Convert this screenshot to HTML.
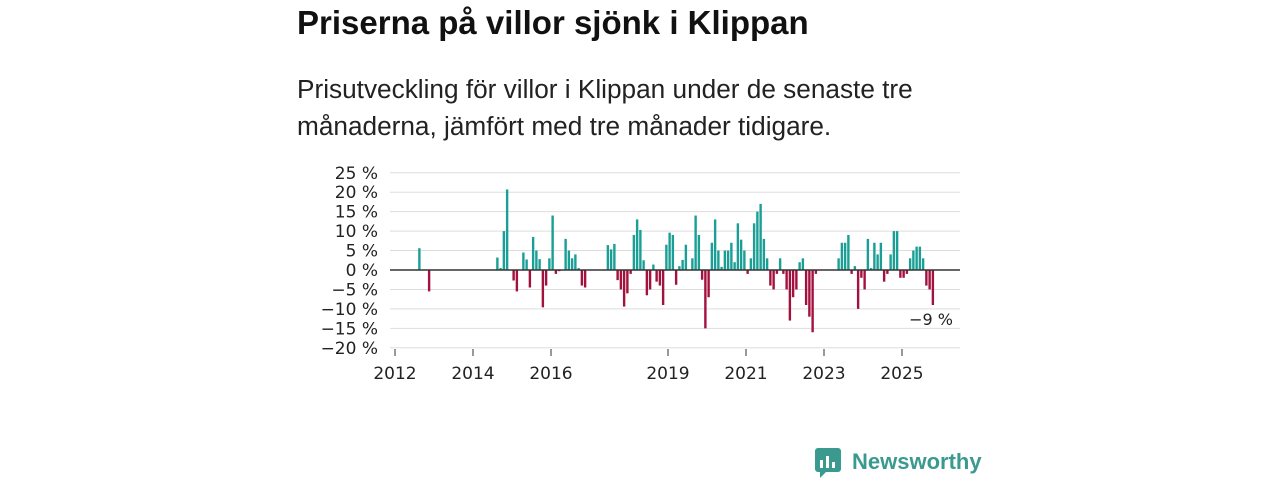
<!DOCTYPE html>
<html><head><meta charset="utf-8"><style>
body{margin:0;width:1280px;height:480px;background:#fff;font-family:"Liberation Sans",sans-serif;overflow:hidden}
</style></head><body>
<svg width="1280" height="480" style="position:absolute;left:0;top:0">
<text x="297" y="34" font-size="33" font-weight="bold" fill="#111" font-family="Liberation Sans, sans-serif">Priserna på villor sjönk i Klippan</text>
<text x="297" y="98" font-size="26.2" fill="#222" font-family="Liberation Sans, sans-serif">Prisutveckling för villor i Klippan under de senaste tre</text>
<text x="297" y="135" font-size="26.2" fill="#222" font-family="Liberation Sans, sans-serif">månaderna, jämfört med tre månader tidigare.</text>
<g id="grid"></g><g id="bars"></g><g id="axes"></g>
<text x="953" y="325" font-size="16" fill="#222" text-anchor="end" font-family="DejaVu Sans, sans-serif">−9 %</text>
<g>
<rect x="815" y="448" width="26" height="24" rx="3" fill="#3a9a8f"/>
<path d="M820 472 L820 478 L826 472 Z" fill="#3a9a8f"/>
<rect x="820" y="460" width="3" height="8" fill="#fff"/><rect x="826" y="456" width="3" height="12" fill="#fff"/><rect x="832" y="462" width="3" height="6" fill="#fff"/>
<text x="852" y="469" font-size="22" font-weight="bold" fill="#3a9a8f" font-family="Liberation Sans, sans-serif">Newsworthy</text>
</g>
</svg>
<script>
const yTicks=[25,20,15,10,5,0,-5,-10,-15,-20];
const xTickYears=[2012,2014,2016,2019,2021,2023,2025];
const months=[7,10,31,32,33,34,36,37,39,40,41,42,43,44,45,46,47,48,49,50,52,53,54,55,56,57,58,
65,66,67,68,69,70,71,72,73,74,75,76,77,78,79,80,81,82,83,84,85,86,87,88,89,91,92,93,94,95,96,97,98,99,100,101,102,103,104,105,106,107,108,109,110,111,112,113,114,115,116,117,118,119,120,121,122,123,124,125,126,127,128,129,
136,137,138,139,140,141,142,143,144,145,146,147,148,149,150,151,152,153,154,155,156,157,158,159,160,161,162,163,164,165];
const values=[5.6,-5.5,3.2,0.5,10,20.7,-2.7,-5.5,4.5,2.7,-4.5,8.5,5,2.8,-9.6,-4,3,14,-1,-0.3,8,5,3,4,0.5,-4,-4.5,
6.4,5.3,6.7,-2.6,-5,-9.4,-6,-1,9,13,10.3,2.5,-6.5,-5,1.4,-3,-4,-9,6.5,9.6,9,-3.8,1,2.6,6.5,3,14,9,-2.5,-15,-7,7,13,5,0.8,5,5,7,2,12,7.8,5,-1,3,12,15,17,8,3,-4,-5,-1,3,-1,-5,-13,-7,-5,2,3,-9,-12,-16,-1,
3,7,7,9,-1,1,-10,-2,-5,8,0.5,7,4,7,-3,-1,4,10,10,-2,-2,-1,3,5,6,6,3,-4,-5,-9];
const NS="http://www.w3.org/2000/svg";
const x0=395,pxYear=39,zeroY=270,pxPct=3.89,left=390,right=960;
function xm(m){return x0+(m+0.5)*pxYear/12;}
function xy(yr){return x0+(yr-2012)*pxYear;}
function yv(v){return zeroY-v*pxPct;}
const grid=document.getElementById('grid'),bars=document.getElementById('bars'),axes=document.getElementById('axes');
yTicks.forEach(t=>{
 const l=document.createElementNS(NS,'line');
 l.setAttribute('x1',left);l.setAttribute('x2',right);l.setAttribute('y1',yv(t));l.setAttribute('y2',yv(t));
 l.setAttribute('stroke',t===0?'#333':'#ddd');l.setAttribute('stroke-width',t===0?1.5:1);
 
 
 (t===0?axes:grid).appendChild(l);
 const tx=document.createElementNS(NS,'text');
 tx.setAttribute('x',378);tx.setAttribute('y',yv(t)+6);tx.setAttribute('text-anchor','end');
 tx.setAttribute('font-size','17');tx.setAttribute('fill','#222');tx.setAttribute('font-family','DejaVu Sans, sans-serif');
 tx.textContent=(t<0?'−'+(-t):t)+' %';
 
 
 axes.appendChild(tx);
});
xTickYears.forEach(yr=>{
 const l=document.createElementNS(NS,'line');
 l.setAttribute('x1',xy(yr));l.setAttribute('x2',xy(yr));l.setAttribute('y1',349);l.setAttribute('y2',356);
 l.setAttribute('stroke','#333');
 
 
 axes.appendChild(l);
 const tx=document.createElementNS(NS,'text');
 tx.setAttribute('x',xy(yr));tx.setAttribute('y',379);tx.setAttribute('text-anchor','middle');
 tx.setAttribute('font-size','17');tx.setAttribute('fill','#222');tx.setAttribute('font-family','DejaVu Sans, sans-serif');
 tx.textContent=yr;
 
 
 axes.appendChild(tx);
});
months.forEach((m,i)=>{
 const v=values[i];const r=document.createElementNS(NS,'rect');
 r.setAttribute('x',xm(m)-1.2);r.setAttribute('width',2.4);
 r.setAttribute('y',Math.min(yv(v),zeroY));r.setAttribute('height',Math.abs(v*pxPct));
 r.setAttribute('fill',v>=0?'#1a9e96':'#a3123f');
 
 
 bars.appendChild(r);
});
</script>
</body></html>
